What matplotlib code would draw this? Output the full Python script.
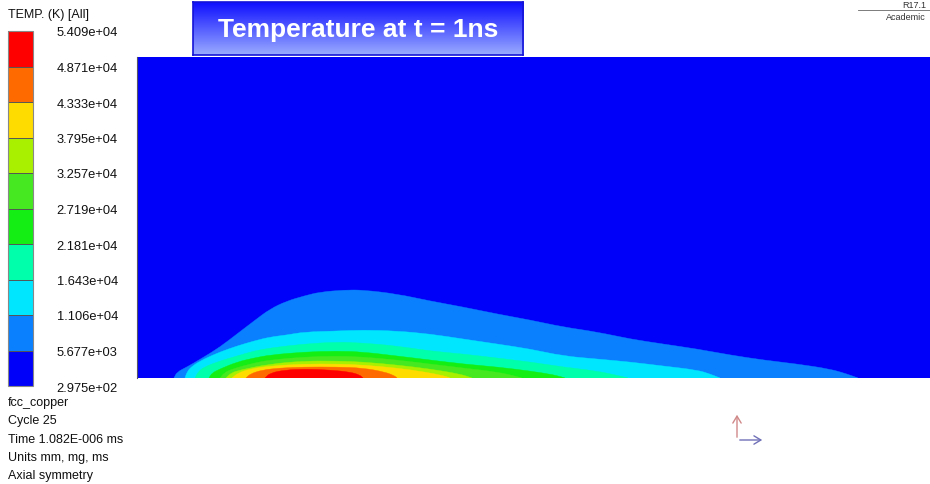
import numpy as np
import matplotlib
matplotlib.use("Agg")
import matplotlib.pyplot as plt
from matplotlib.colors import ListedColormap, BoundaryNorm
from matplotlib.colorbar import ColorbarBase
from matplotlib.path import Path
from matplotlib.patches import PathPatch, FancyArrowPatch

plt.rcParams["font.family"] = ["Liberation Sans", "DejaVu Sans"]

# temperature levels (K) and their band colours
levels = [297.5, 5677, 11060, 16430, 21810, 27190, 32570, 37950, 43330, 48710, 54090]
level_labels = ["2.975e+02", "5.677e+03", "1.106e+04", "1.643e+04", "2.181e+04",
                "2.719e+04", "3.257e+04", "3.795e+04", "4.333e+04", "4.871e+04",
                "5.409e+04"]
band_colors = ["#0000FA", "#0A80FF", "#00E6FF", "#00FFAA", "#14EE14",
               "#46E822", "#A8F000", "#FFDC00", "#FF6A00", "#FF0000"]

# outer edge of each band (x along axis, y = radius)
edge_5677_x = [0.37, 0.40, 0.50, 0.67, 0.83, 1.00, 1.17, 1.33, 1.50, 1.67, 1.83, 2.08, 2.26,
               2.60, 2.93, 3.26, 3.60, 3.93, 4.26, 4.60, 4.93, 5.26, 5.60, 5.93, 6.26,
               6.60, 6.93, 7.10, 7.21]
edge_5677_y = [0.00, 0.06, 0.11, 0.21, 0.31, 0.44, 0.57, 0.69, 0.77, 0.82, 0.86, 0.88, 0.88,
               0.84, 0.77, 0.71, 0.64, 0.58, 0.51, 0.46, 0.39, 0.34, 0.29, 0.23, 0.18,
               0.14, 0.09, 0.04, 0.00]

edge_11060_x = [0.48, 0.50, 0.55, 0.67, 0.83, 1.00, 1.17, 1.33, 1.50, 1.67, 2.00, 2.26,
                2.60, 2.93, 3.26, 3.60, 3.93, 4.26, 4.60, 4.93, 5.26, 5.60, 5.73, 5.83]
edge_11060_y = [0.00, 0.06, 0.12, 0.19, 0.26, 0.32, 0.37, 0.41, 0.43, 0.46, 0.47, 0.48,
                0.47, 0.44, 0.39, 0.34, 0.29, 0.22, 0.19, 0.16, 0.12, 0.08, 0.04, 0.00]

edge_16430_x = [0.58, 0.61, 0.67, 0.83, 1.00, 1.17, 1.33, 1.67, 2.00, 2.26, 2.60, 2.93,
                3.26, 3.60, 3.93, 4.26, 4.60, 4.83, 4.91]
edge_16430_y = [0.00, 0.06, 0.11, 0.17, 0.22, 0.27, 0.30, 0.34, 0.36, 0.35, 0.32, 0.27,
                0.24, 0.20, 0.16, 0.11, 0.07, 0.02, 0.00]

edge_21810_x = [0.72, 0.75, 0.83, 1.00, 1.17, 1.33, 1.67, 2.00, 2.26, 2.60, 2.93, 3.26,
                3.60, 3.93, 4.18, 4.28]
edge_21810_y = [0.00, 0.05, 0.09, 0.16, 0.20, 0.23, 0.26, 0.27, 0.26, 0.22, 0.18, 0.14,
                0.11, 0.07, 0.03, 0.00]

edge_27190_x = [0.83, 0.87, 0.95, 1.17, 1.33, 1.67, 2.00, 2.26, 2.60, 2.93, 3.26, 3.60,
                3.78, 3.85]
edge_27190_y = [0.00, 0.05, 0.09, 0.15, 0.18, 0.21, 0.22, 0.21, 0.18, 0.14, 0.10, 0.06,
                0.02, 0.00]

edge_32570_x = [0.89, 0.94, 1.03, 1.33, 1.67, 2.00, 2.26, 2.60, 2.93, 3.23, 3.35]
edge_32570_y = [0.00, 0.05, 0.08, 0.14, 0.17, 0.17, 0.16, 0.13, 0.09, 0.04, 0.00]

edge_37950_x = [0.95, 1.01, 1.13, 1.33, 1.67, 2.00, 2.26, 2.60, 2.88, 3.08, 3.13]
edge_37950_y = [0.00, 0.05, 0.09, 0.12, 0.14, 0.14, 0.13, 0.10, 0.06, 0.02, 0.00]

edge_43330_x = [1.09, 1.13, 1.25, 1.43, 1.67, 2.00, 2.26, 2.48, 2.58, 2.60]
edge_43330_y = [0.00, 0.04, 0.08, 0.10, 0.11, 0.11, 0.10, 0.06, 0.02, 0.00]

edge_48710_x = [1.28, 1.33, 1.48, 1.68, 1.93, 2.13, 2.23, 2.26]
edge_48710_y = [0.00, 0.05, 0.08, 0.09, 0.08, 0.06, 0.03, 0.00]

edges = [
    (edge_5677_x, edge_5677_y),
    (edge_11060_x, edge_11060_y),
    (edge_16430_x, edge_16430_y),
    (edge_21810_x, edge_21810_y),
    (edge_27190_x, edge_27190_y),
    (edge_32570_x, edge_32570_y),
    (edge_37950_x, edge_37950_y),
    (edge_43330_x, edge_43330_y),
    (edge_48710_x, edge_48710_y),
]

info_lines = ["fcc_copper", "Cycle 25", "Time 1.082E-006 ms",
              "Units mm, mg, ms", "Axial symmetry"]

W, H = 930, 485
fig = plt.figure(figsize=(W / 100, H / 100), dpi=100)
fig.patch.set_facecolor("white")


def fx(px):
    return px / W


def fy(py):
    return 1 - py / H


def band_path(xs, ys):
    """Closed region under an edge; read points used as quadratic bezier controls."""
    pts = np.column_stack([xs, ys])
    verts = [pts[0], (pts[0] + pts[1]) / 2]
    codes = [Path.MOVETO, Path.LINETO]
    for i in range(1, len(pts) - 1):
        verts += [pts[i], (pts[i] + pts[i + 1]) / 2]
        codes += [Path.CURVE3, Path.CURVE3]
    verts += [pts[-1], pts[0], pts[0]]
    codes += [Path.LINETO, Path.LINETO, Path.CLOSEPOLY]
    return Path(verts, codes)


# ── contour plot ──────────────────────────────────────────────────────────────
ax = fig.add_axes([fx(137), fy(379), fx(930) - fx(137), fy(58) - fy(379)])
ax.set_facecolor(band_colors[0])
ax.set_xlim(0, 7.93)
ax.set_ylim(0, 3.21)
for (xs, ys), c in zip(edges, band_colors[1:]):
    ax.add_patch(PathPatch(band_path(xs, ys), facecolor=c, edgecolor=c, lw=0.3, zorder=2))
ax.set_xticks([])
ax.set_yticks([])
for side in ["top", "right", "bottom"]:
    ax.spines[side].set_visible(False)
ax.spines["left"].set_color("#555566")
ax.spines["left"].set_linewidth(0.8)

# ── colour legend ─────────────────────────────────────────────────────────────
cax = fig.add_axes([fx(8), fy(387), fx(33) - fx(8), fy(32) - fy(387)])
cb = ColorbarBase(cax, cmap=ListedColormap(band_colors),
                  norm=BoundaryNorm(levels, len(band_colors)),
                  boundaries=levels, spacing="uniform", drawedges=True)
cb.set_ticks(levels)
cb.set_ticklabels(level_labels)
cb.ax.tick_params(length=0, pad=17, labelsize=9.3, labelcolor="#111111")
cb.outline.set_edgecolor("#888888")
cb.outline.set_linewidth(0.8)
cb.dividers.set_color("#555555")
cb.dividers.set_linewidth(0.7)

fig.text(fx(8), fy(15), "TEMP. (K) [All]", fontsize=9, va="center", ha="left",
         color="#111111")

for i, line in enumerate(info_lines):
    fig.text(fx(8), fy(403 + 18.3 * i), line, fontsize=9, va="center",
             ha="left", color="#111111")

# ── title box ─────────────────────────────────────────────────────────────────
tax = fig.add_axes([fx(193), fy(56), fx(523) - fx(193), fy(3) - fy(56)])
grad = np.linspace(0, 1, 64)[:, None]
top_c = np.array([0.06, 0.06, 1.0])
bot_c = np.array([0.60, 0.67, 1.0])
img = top_c[None, None, :] * (1 - grad[:, :, None]) + bot_c[None, None, :] * grad[:, :, None]
tax.imshow(np.repeat(img, 2, axis=1), aspect="auto", extent=[0, 1, 0, 1])
tax.set_xticks([])
tax.set_yticks([])
for s in tax.spines.values():
    s.set_color("#1414D8")
    s.set_linewidth(1.2)
tax.text(0.5, 0.5, "Temperature at t = 1ns", transform=tax.transAxes,
         ha="center", va="center", color="white", fontsize=19, fontweight="bold")

# ── corner logo text ──────────────────────────────────────────────────────────
fig.text(fx(926), fy(5), "R17.1", fontsize=6.5, va="center", ha="right", color="#333333")
fig.add_artist(plt.Line2D([fx(858), fx(930)], [fy(11), fy(11)], color="#666666", lw=0.6))
fig.text(fx(926), fy(18), "Academic", fontsize=6.5, va="center", ha="right",
         color="#333333")

# ── axis triad ────────────────────────────────────────────────────────────────
fig.add_artist(FancyArrowPatch(
    (fx(737), fy(441)), (fx(737), fy(413)), transform=fig.transFigure,
    arrowstyle="->,head_length=5,head_width=3", color="#D08888", lw=1.0))
fig.add_artist(FancyArrowPatch(
    (fx(737), fy(441)), (fx(765), fy(441)), transform=fig.transFigure,
    arrowstyle="->,head_length=5,head_width=3", color="#7070B8", lw=1.0))

fig.savefig("out.png", dpi=100, facecolor="white")
